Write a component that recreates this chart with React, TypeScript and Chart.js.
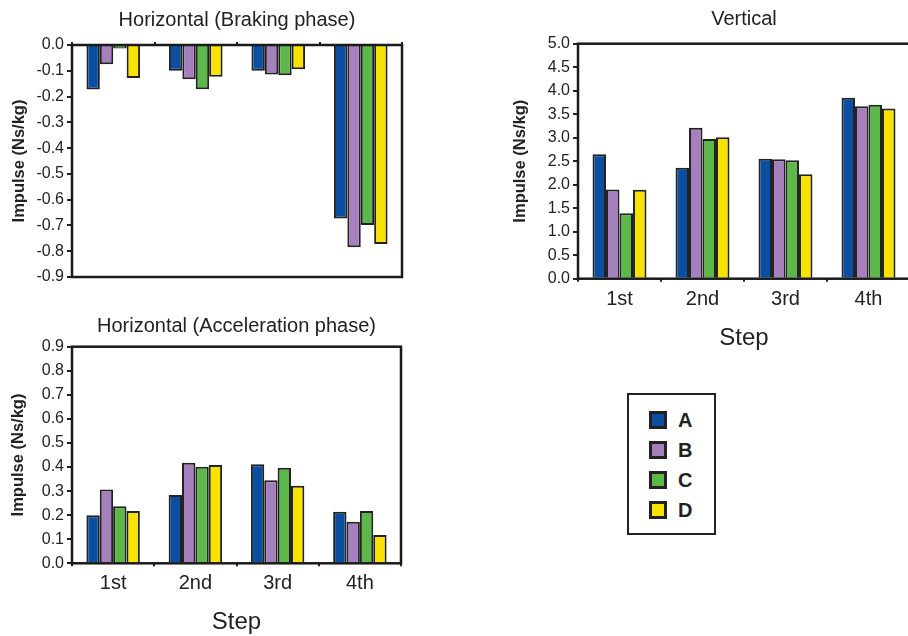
import React, { useEffect, useRef } from "react";
import { Chart, registerables } from "chart.js";

Chart.register(...registerables);

const categories = ["1st", "2nd", "3rd", "4th"];
const seriesNames = ["A", "B", "C", "D"];
const seriesColors = ["#0b4fa3", "#a67fbf", "#5bb849", "#f8e300"];

const brakingA = [-0.173, -0.1, -0.1, -0.673];
const brakingB = [-0.075, -0.133, -0.114, -0.785];
const brakingC = [-0.014, -0.172, -0.117, -0.698];
const brakingD = [-0.128, -0.123, -0.094, -0.772];

const verticalA = [2.65, 2.36, 2.55, 3.85];
const verticalB = [1.9, 3.21, 2.54, 3.67];
const verticalC = [1.39, 2.97, 2.52, 3.7];
const verticalD = [1.89, 3.01, 2.22, 3.62];

const accelA = [0.2, 0.284, 0.412, 0.214];
const accelB = [0.307, 0.418, 0.345, 0.173];
const accelC = [0.237, 0.401, 0.397, 0.217];
const accelD = [0.217, 0.408, 0.322, 0.118];

const FONT = "'Liberation Sans', Arial, Helvetica, sans-serif";
const INK = "#222222";

type PanelCfg = {
  left: number;
  top: number;
  width: number;
  height: number;
  title: string;
  titleY: number;
  yMin: number;
  yMax: number;
  yStep: number;
  yAxisWidth: number;
  yTitlePadTop: number;
  xPosition: "top" | "bottom";
  xHeight: number;
  showXLabels: boolean;
  xTickPadding: number;
  padding: { left: number; right: number; top: number; bottom: number };
  series: number[][];
};

const framePlugin = {
  id: "frame",
  afterDatasetsDraw(chart: any) {
    const { ctx, chartArea } = chart;
    ctx.save();
    ctx.strokeStyle = "#1a1a1a";
    ctx.lineWidth = 2.5;
    ctx.strokeRect(
      chartArea.left,
      chartArea.top,
      chartArea.right - chartArea.left,
      chartArea.bottom - chartArea.top
    );
    ctx.restore();
  },
};

const panelTitlePlugin = {
  id: "panelTitle",
  afterDraw(chart: any, _args: any, opts: any) {
    if (!opts || !opts.text) return;
    const { ctx, chartArea } = chart;
    ctx.save();
    ctx.fillStyle = INK;
    ctx.font = `normal 20px ${FONT}`;
    ctx.textAlign = "center";
    ctx.textBaseline = "middle";
    ctx.fillText(opts.text, (chartArea.left + chartArea.right) / 2, opts.y);
    ctx.restore();
  },
};

function Panel({ cfg }: { cfg: PanelCfg }) {
  const ref = useRef<HTMLCanvasElement | null>(null);
  useEffect(() => {
    if (!ref.current) return;
    const chart = new Chart(ref.current, {
      type: "bar",
      data: {
        labels: categories,
        datasets: cfg.series.map((vals, i) => ({
          label: seriesNames[i],
          data: vals,
          backgroundColor: seriesColors[i],
          borderColor: INK,
          borderWidth: 2,
          categoryPercentage: 0.65,
          barPercentage: 1.0,
        })),
      },
      options: {
        responsive: false,
        animation: false,
        devicePixelRatio: 1,
        layout: { padding: cfg.padding },
        plugins: {
          legend: { display: false },
          tooltip: { enabled: false },
          title: { display: false },
          panelTitle: { text: cfg.title, y: cfg.titleY },
        },
        scales: {
          x: {
            position: cfg.xPosition,
            offset: true,
            border: { display: false },
            grid: {
              display: true,
              offset: true,
              drawOnChartArea: false,
              drawTicks: true,
              tickLength: 3,
              color: INK,
              lineWidth: 2,
            },
            ticks: {
              display: cfg.showXLabels,
              color: INK,
              padding: cfg.xTickPadding,
              font: { family: FONT, size: 20 },
              maxRotation: 0,
            },
            title: {
              display: cfg.showXLabels,
              text: "Step",
              color: INK,
              font: { family: FONT, size: 24 },
              padding: { top: 0, bottom: 2 },
            },
            afterFit: (scale: any) => {
              scale.height = cfg.xHeight;
            },
          },
          y: {
            min: cfg.yMin,
            max: cfg.yMax,
            border: { display: false },
            grid: {
              display: true,
              drawOnChartArea: false,
              drawTicks: true,
              tickLength: 5,
              color: INK,
              lineWidth: 2,
            },
            ticks: {
              stepSize: cfg.yStep,
              color: INK,
              padding: 3,
              font: { family: FONT, size: 16 },
              callback: (v: any) => {
                const n = Number(v);
                return (Math.abs(n) < 1e-9 ? 0 : n).toFixed(1);
              },
            },
            title: {
              display: true,
              text: "Impulse (Ns/kg)",
              color: INK,
              font: { family: FONT, size: 16.5, weight: "bold" },
              padding: { top: cfg.yTitlePadTop, bottom: 0 },
            },
            afterFit: (scale: any) => {
              scale.width = cfg.yAxisWidth;
            },
          },
        },
      },
      plugins: [framePlugin, panelTitlePlugin],
    } as any);
    return () => chart.destroy();
  }, [cfg]);
  return (
    <canvas
      ref={ref}
      width={cfg.width}
      height={cfg.height}
      style={{
        position: "absolute",
        left: cfg.left,
        top: cfg.top,
        width: cfg.width,
        height: cfg.height,
      }}
    />
  );
}

const braking: PanelCfg = {
  left: 0,
  top: 0,
  width: 420,
  height: 300,
  title: "Horizontal (Braking phase)",
  titleY: 20,
  yMin: -0.9,
  yMax: 0,
  yStep: 0.1,
  yAxisWidth: 72,
  yTitlePadTop: 10,
  xPosition: "top",
  xHeight: 6,
  showXLabels: false,
  xTickPadding: 0,
  padding: { left: 0, right: 18, top: 39, bottom: 23 },
  series: [brakingA, brakingB, brakingC, brakingD],
};

const vertical: PanelCfg = {
  left: 490,
  top: 0,
  width: 430,
  height: 360,
  title: "Vertical",
  titleY: 19,
  yMin: 0,
  yMax: 5,
  yStep: 0.5,
  yAxisWidth: 88,
  yTitlePadTop: 20.4,
  xPosition: "bottom",
  xHeight: 76.1,
  showXLabels: true,
  xTickPadding: 6,
  padding: { left: 0, right: 10, top: 43.7, bottom: 5.2 },
  series: [verticalA, verticalB, verticalC, verticalD],
};

const accel: PanelCfg = {
  left: 0,
  top: 300,
  width: 420,
  height: 345,
  title: "Horizontal (Acceleration phase)",
  titleY: 26.7,
  yMin: 0,
  yMax: 0.9,
  yStep: 0.1,
  yAxisWidth: 72,
  yTitlePadTop: 8.4,
  xPosition: "bottom",
  xHeight: 75,
  showXLabels: true,
  xTickPadding: 5,
  padding: { left: 0, right: 19, top: 46.7, bottom: 6.7 },
  series: [accelA, accelB, accelC, accelD],
};

function Legend() {
  return (
    <div
      style={{
        position: "absolute",
        left: 627,
        top: 393,
        width: 89,
        height: 142,
        boxSizing: "border-box",
        border: `2.5px solid ${INK}`,
        background: "#fff",
      }}
    >
      {seriesNames.map((name, i) => (
        <div
          key={name}
          style={{
            position: "absolute",
            left: 20,
            top: 14 + i * 30,
            height: 22,
            display: "flex",
            alignItems: "center",
          }}
        >
          <div
            style={{
              width: 18,
              height: 18,
              boxSizing: "border-box",
              border: `3px solid ${INK}`,
              background: seriesColors[i],
            }}
          />
          <span
            style={{
              marginLeft: 11,
              fontFamily: FONT,
              fontWeight: "bold",
              fontSize: 20,
              color: INK,
              lineHeight: "22px",
            }}
          >
            {name}
          </span>
        </div>
      ))}
    </div>
  );
}

export default function App() {
  return (
    <div
      style={{
        position: "fixed",
        left: 0,
        top: 0,
        width: 908,
        height: 636,
        overflow: "hidden",
        background: "#ffffff",
      }}
    >
      <Panel cfg={braking} />
      <Panel cfg={vertical} />
      <Panel cfg={accel} />
      <Legend />
    </div>
  );
}
